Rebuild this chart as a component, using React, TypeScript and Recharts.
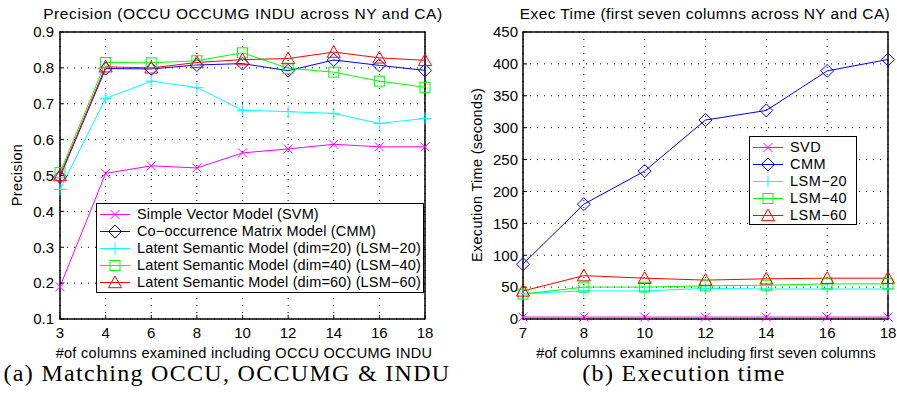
import { CartesianGrid, Line, LineChart, ReferenceArea, XAxis, YAxis } from "recharts";

// (a) precision vs. # of columns
const precCols = ["3", "4", "6", "8", "10", "12", "14", "16", "18"];
const precSVM = [0.19, 0.506, 0.527, 0.521, 0.563, 0.574, 0.587, 0.58, 0.58];
const precCMM = [0.496, 0.798, 0.797, 0.808, 0.812, 0.792, 0.822, 0.807, 0.793];
const precLSM20 = [0.461, 0.715, 0.763, 0.745, 0.682, 0.678, 0.673, 0.645, 0.659];
const precLSM40 = [0.508, 0.815, 0.814, 0.82, 0.842, 0.799, 0.788, 0.763, 0.746];
const precLSM60 = [0.5, 0.803, 0.8, 0.815, 0.823, 0.826, 0.844, 0.828, 0.821];
const precTicks = [0.1, 0.2, 0.3, 0.4, 0.5, 0.6, 0.7, 0.8, 0.9];

// (b) execution time (seconds)
const timeCols = ["7", "8", "10", "12", "14", "16", "18"];
const timeSVD = [3, 3, 3, 3, 3, 3, 3];
const timeCMM = [86, 180, 232, 312, 327, 389, 407];
const timeLSM20 = [40, 44, 44, 48, 47, 47, 47];
const timeLSM40 = [39, 50, 50, 52, 53, 55, 55];
const timeLSM60 = [44, 68, 64, 61, 63, 64, 64];
const timeTicks = [0, 50, 100, 150, 200, 250, 300, 350, 400, 450];

const precData = precCols.map((c, i) => ({
  col: c,
  svm: precSVM[i],
  cmm: precCMM[i],
  lsm20: precLSM20[i],
  lsm40: precLSM40[i],
  lsm60: precLSM60[i],
}));

const timeData = timeCols.map((c, i) => ({
  col: c,
  svd: timeSVD[i],
  cmm: timeCMM[i],
  lsm20: timeLSM20[i],
  lsm40: timeLSM40[i],
  lsm60: timeLSM60[i],
}));

type Shape = "x" | "diamond" | "plus" | "square" | "triangle";

const Mark = ({ cx, cy, shape, color }: { cx: number; cy: number; shape: Shape; color: string }) => {
  if (cx == null || cy == null) return null;
  const p = { fill: "none", stroke: color, strokeWidth: 1 };
  if (shape === "x") {
    const r = 4.5;
    return <path d={`M${cx - r},${cy - r}L${cx + r},${cy + r}M${cx - r},${cy + r}L${cx + r},${cy - r}`} {...p} />;
  }
  if (shape === "plus") {
    const r = 6;
    return <path d={`M${cx - r},${cy}L${cx + r},${cy}M${cx},${cy - r}L${cx},${cy + r}`} {...p} />;
  }
  if (shape === "diamond") {
    const r = 6.5;
    return <path d={`M${cx},${cy - r}L${cx + r},${cy}L${cx},${cy + r}L${cx - r},${cy}Z`} {...p} />;
  }
  if (shape === "square") {
    const r = 5;
    return <rect x={cx - r} y={cy - r} width={2 * r} height={2 * r} {...p} />;
  }
  const r = 6.5;
  return <path d={`M${cx},${cy - r}L${cx + r},${cy + r * 0.8}L${cx - r},${cy + r * 0.8}Z`} {...p} />;
};

const series = [
  { key: "svm", shape: "x" as Shape, color: "#ff00ff" },
  { key: "cmm", shape: "diamond" as Shape, color: "#0000ff" },
  { key: "lsm20", shape: "plus" as Shape, color: "#00ffff" },
  { key: "lsm40", shape: "square" as Shape, color: "#00ff00" },
  { key: "lsm60", shape: "triangle" as Shape, color: "#ff0000" },
];

const precNames = [
  "Simple Vector Model (SVM)",
  "Co\u2212occurrence Matrix Model (CMM)",
  "Latent Semantic Model (dim=20) (LSM\u221220)",
  "Latent Semantic Model (dim=40) (LSM\u221240)",
  "Latent Semantic Model (dim=60) (LSM\u221260)",
];
const timeNames = ["SVD", "CMM", "LSM\u221220", "LSM\u221240", "LSM\u221260"];

const LegendBox = ({ names, spacing, style }: { names: string[]; spacing: number; style: React.CSSProperties }) => (
  <div
    style={{
      position: "absolute",
      background: "#fff",
      border: "1.5px solid #000",
      boxSizing: "border-box",
      padding: "2px 0 0 0",
      fontSize: 14.5,
      letterSpacing: spacing,
      lineHeight: "17px",
      ...style,
    }}
  >
    {names.map((n, i) => {
      const s = series[i];
      return (
        <div key={n} style={{ display: "flex", alignItems: "center", height: 17, whiteSpace: "nowrap" }}>
          <svg width={40} height={17} style={{ flex: "none" }}>
            <line x1={3} x2={33} y1={8.5} y2={8.5} stroke={s.color} strokeWidth={1} />
            <Mark cx={18} cy={8.5} shape={s.shape} color={s.color} />
          </svg>
          <span>{n}</span>
        </div>
      );
    })}
  </div>
);

const tickStyle = { fill: "#000", fontSize: 15 };

const dotFor = (shape: Shape, color: string) => (p: any) => (
  <Mark key={`${p.dataKey}-${p.index}`} cx={p.cx} cy={p.cy} shape={shape} color={color} />
);

const abs = (s: React.CSSProperties): React.CSSProperties => ({ position: "absolute", whiteSpace: "nowrap", ...s });

const serif = '"Liberation Serif", "Times New Roman", serif';

export default function App() {
  return (
    <div
      style={{
        position: "absolute",
        left: 0,
        top: 0,
        width: 897,
        height: 395,
        background: "#fff",
        overflow: "hidden",
        fontFamily: '"Liberation Sans", Arial, sans-serif',
        color: "#000",
      }}
    >
      {/* (a) */}
      <div style={abs({ left: 0, top: 0 })}>
        <LineChart width={450} height={360} data={precData} margin={{ top: 32, right: 25, bottom: 0, left: 0 }}>
          <CartesianGrid stroke="#000" strokeDasharray="1 6" />
          <XAxis
            dataKey="col"
            height={41}
            tick={tickStyle}
            tickLine={{ stroke: "#000" }}
            axisLine={false}
            tickSize={-4}
            tickMargin={12}
            interval={0}
          />
          <YAxis
            width={60}
            domain={[0.1, 0.9]}
            ticks={precTicks}
            tick={tickStyle}
            tickLine={{ stroke: "#000" }}
            axisLine={false}
            tickSize={-4}
            tickMargin={10}
            tickFormatter={(v: number) => String(v)}
          />
          <ReferenceArea x1="3" x2="18" y1={0.1} y2={0.9} fill="none" stroke="#000" strokeWidth={1.5} fillOpacity={0} />
          {series.map((s) => (
            <Line
              key={s.key}
              dataKey={s.key}
              stroke={s.color}
              strokeWidth={1}
              dot={dotFor(s.shape, s.color)}
              activeDot={false}
              isAnimationActive={false}
            />
          ))}
        </LineChart>
      </div>
      <div style={abs({ left: 243, top: 14, transform: "translate(-50%,-50%)", fontSize: 15.5, letterSpacing: 0.6 })}>
        Precision (OCCU OCCUMG INDU across NY and CA)
      </div>
      <div style={abs({ left: 17, top: 175, transform: "translate(-50%,-50%) rotate(-90deg)", fontSize: 14.5, letterSpacing: 0.3 })}>
        Precision
      </div>
      <div style={abs({ left: 244, top: 353, transform: "translate(-50%,-50%)", fontSize: 14.5, letterSpacing: 0.3 })}>
        #of columns examined including OCCU OCCUMG INDU
      </div>
      <LegendBox names={precNames} spacing={0.15} style={{ left: 96, top: 203, width: 328, height: 90 }} />

      {/* (b) */}
      <div style={abs({ left: 450, top: 0 })}>
        <LineChart width={447} height={360} data={timeData} margin={{ top: 32, right: 9, bottom: 0, left: 0 }}>
          <CartesianGrid stroke="#000" strokeDasharray="1 6" />
          <XAxis
            dataKey="col"
            height={41}
            tick={tickStyle}
            tickLine={{ stroke: "#000" }}
            axisLine={false}
            tickSize={-4}
            tickMargin={12}
            interval={0}
          />
          <YAxis
            width={73}
            domain={[0, 450]}
            ticks={timeTicks}
            tick={tickStyle}
            tickLine={{ stroke: "#000" }}
            axisLine={false}
            tickSize={-4}
            tickMargin={9}
          />
          <ReferenceArea x1="7" x2="18" y1={0} y2={450} fill="none" stroke="#000" strokeWidth={1.5} fillOpacity={0} />
          {series.map((s) => (
            <Line
              key={s.key}
              dataKey={s.key === "svm" ? "svd" : s.key}
              stroke={s.color}
              strokeWidth={1}
              dot={dotFor(s.shape, s.color)}
              activeDot={false}
              isAnimationActive={false}
            />
          ))}
        </LineChart>
      </div>
      <div style={abs({ left: 705, top: 14, transform: "translate(-50%,-50%)", fontSize: 15.5, letterSpacing: 0.4 })}>
        Exec Time (first seven columns across NY and CA)
      </div>
      <div style={abs({ left: 477, top: 175, transform: "translate(-50%,-50%) rotate(-90deg)", fontSize: 14.5, letterSpacing: 0.3 })}>
        Execution Time (seconds)
      </div>
      <div style={abs({ left: 706, top: 353, transform: "translate(-50%,-50%)", fontSize: 14.5, letterSpacing: 0.1 })}>
        #of columns examined including first seven columns
      </div>
      <LegendBox names={timeNames} spacing={0.45} style={{ left: 749, top: 136, width: 108, height: 89 }} />

      {/* captions */}
      <div style={abs({ left: 227, top: 373, transform: "translate(-50%,-50%)", fontFamily: serif, fontSize: 24, letterSpacing: 1.3 })}>
        (a) Matching OCCU, OCCUMG &amp; INDU
      </div>
      <div style={abs({ left: 684, top: 373, transform: "translate(-50%,-50%)", fontFamily: serif, fontSize: 24, letterSpacing: 1.3 })}>
        (b) Execution time
      </div>
    </div>
  );
}
